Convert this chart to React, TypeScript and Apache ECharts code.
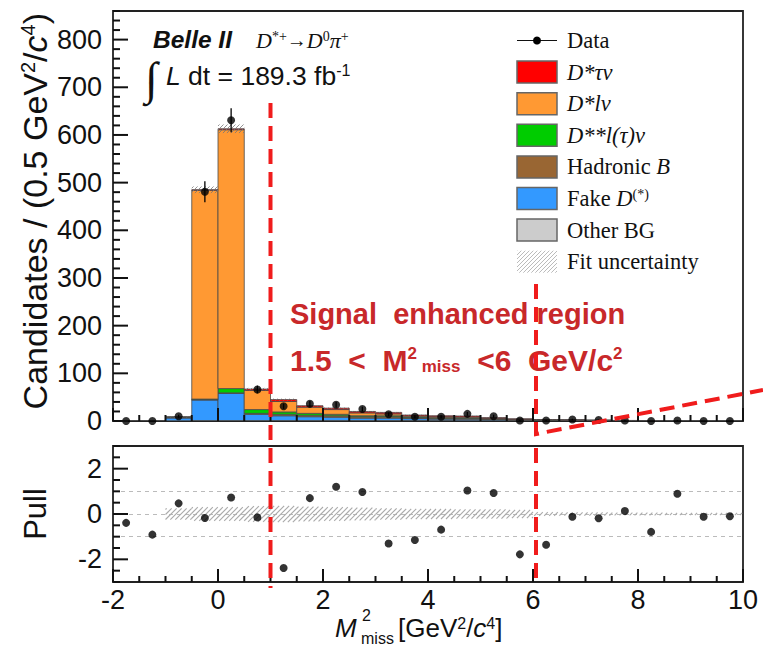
import React, { useEffect, useRef } from 'react';
import * as echarts from 'echarts';

// ---------- DATA ----------
const binLow = [-2, -1.5, -1, -0.5, 0, 0.5, 1, 1.5, 2, 2.5, 3, 3.5, 4, 4.5, 5, 5.5, 6, 6.5, 7, 7.5, 8, 8.5, 9, 9.5];
const BIN_W = 0.5;

const otherBG = [0.05, 0.2, 0.5, 1, 1, 1, 1, 1, 1, 1, 1, 1, 1, 0.8, 0.6, 0.4, 0.3, 0.25, 0.2, 0.15, 0.1, 0.08, 0.05, 0.03];
const fakeD = [0.1, 0.6, 6, 43, 57, 13, 10, 8, 7, 5, 5, 4, 3, 3, 2, 1.3, 0.9, 0.7, 0.5, 0.35, 0.25, 0.12, 0.07, 0.03];
const hadronicB = [0, 0, 0.5, 1, 1, 2, 3, 3, 3, 3, 3, 2, 2, 2, 1.5, 1, 0.7, 0.6, 0.45, 0.3, 0.18, 0.1, 0.04, 0.02];
const dssLnu = [0, 0, 0.5, 1, 9, 8, 5, 4, 3, 2, 2, 1.5, 1, 1, 0.6, 0.4, 0.2, 0.15, 0.1, 0.07, 0.05, 0.03, 0.01, 0.01];
const dsLnu = [0, 0, 1, 438, 543, 40, 22, 13, 10, 6, 4, 2, 2, 1.7, 1, 0.6, 0.3, 0.2, 0.15, 0.1, 0.07, 0.04, 0.02, 0.01];
const dsTaunu = [0, 0, 0, 1, 2, 3, 4, 3, 3, 3, 3, 2, 2, 2, 1.3, 0.8, 0.5, 0.4, 0.3, 0.2, 0.12, 0.05, 0.02, 0.01];

const dataCounts = [0, 0, 10, 481, 631, 66, 31, 36, 34, 25, 14, 9, 9, 15, 10, 1, 1, 3, 2, 1, 0, 1, 0, 0];
const pullValues = [-0.39, -0.91, 0.47, -0.18, 0.73, -0.15, -2.38, 0.7, 1.2, 0.97, -1.3, -1.15, -0.69, 1.04, 0.93, -1.78, -1.36, -0.12, -0.19, 0.13, -0.79, 0.89, -0.12, -0.1];
const fitUncTop = [0.05, 0.1, 1, 7, 9, 2.5, 2, 1.5, 1.3, 1.1, 1, 0.8, 0.7, 0.6, 0.5, 0.4, 0.3, 0.25, 0.2, 0.15, 0.1, 0.08, 0.05, 0.03];
const fitUncPull = [0, 0, 0.25, 0.3, 0.3, 0.35, 0.36, 0.33, 0.3, 0.28, 0.25, 0.23, 0.22, 0.2, 0.2, 0.18, 0.08, 0.07, 0.07, 0.06, 0.06, 0.05, 0.05, 0.05];

const pullRefLines = [1, 0, -1];
const pullTickValues = [-2, 0, 2];

// axis ranges / tick steps
const X_MIN = -2, X_MAX = 10, X_MAJOR = 2, X_MINOR = 0.5;
const Y_MIN = 0, Y_MAX = 860, Y_MAJOR = 100, Y_MINOR = 20, Y_LAST_LABEL = 800;
const P_MIN = -3, P_MAX = 3, P_MINOR = 0.5;

// ---------- STYLE ----------
const components = [
  { name: 'Other BG', values: otherBG, color: '#cccccc', label: 'Other BG' },
  { name: 'Fake D(*)', values: fakeD, color: '#3399ff', label: 'Fake {it|D}{sup|(*)}' },
  { name: 'Hadronic B', values: hadronicB, color: '#996633', label: 'Hadronic {it|B}' },
  { name: 'D**l(τ)ν', values: dssLnu, color: '#00cc00', label: '{it|D**l(τ)ν}' },
  { name: 'D*lν', values: dsLnu, color: '#ff9933', label: '{it|D*lν}' },
  { name: 'D*τν', values: dsTaunu, color: '#ff0000', label: '{it|D*τν}' },
];

const SANS = '"Liberation Sans", Arial, sans-serif';
const SERIF = '"Liberation Serif", "Times New Roman", serif';
const RED_TXT = '#c8282a';
const RED_LINE = '#f01c1c';
const LABEL_SIZE = 27;
const LEG_SIZE = 22.5;

function hatchLines(x0: number, y0: number, x1: number, y1: number, s: number, color: string, lw: number) {
  const out: any[] = [];
  const start = Math.ceil((x0 + y0) / s) * s;
  for (let c = start; c <= x1 + y1; c += s) {
    const xs = Math.max(x0, c - y1);
    const xe = Math.min(x1, c - y0);
    if (xe > xs) {
      out.push({ type: 'line', shape: { x1: xs, y1: c - xs, x2: xe, y2: c - xe }, style: { stroke: color, lineWidth: lw } });
    }
  }
  return out;
}

function steps(from: number, to: number, step: number) {
  const out: number[] = [];
  const n = Math.round((to - from) / step);
  for (let k = 0; k <= n; k++) out.push(Math.round((from + k * step) * 1000) / 1000);
  return out;
}

// tick marks as small filled rectangles: item = [xValue, yValue, kind (0 = y tick, 1 = x tick), lengthPx]
function tickSeries(xAxisIndex: number, yAxisIndex: number, items: number[][]) {
  return {
    type: 'custom',
    xAxisIndex,
    yAxisIndex,
    silent: true,
    clip: false,
    z: 30,
    dimensions: ['x', 'y', 'kind', 'len'],
    encode: { x: 0, y: 1 },
    data: items,
    renderItem: (params: any, api: any) => {
      const p = api.coord([api.value(0), api.value(1)]);
      const kind = Number(api.value(2));
      const len = Number(api.value(3));
      const shape = kind === 0
        ? { x: p[0], y: p[1] - 1, width: len, height: 2 }
        : { x: p[0] - 1, y: p[1] - len, width: 2, height: len };
      return { type: 'rect', shape, style: { fill: '#111111' } };
    },
  };
}

export default function App() {
  const ref = useRef<HTMLDivElement>(null);

  useEffect(() => {
    if (!ref.current) return;
    const chart = echarts.init(ref.current, null, { renderer: 'svg' });

    const base = binLow.map(() => 0);
    const stackSeries: any[] = components.map((comp) => {
      const data = binLow.map((lo, i) => {
        const b = base[i];
        const t = b + comp.values[i];
        base[i] = t;
        return [lo, lo + BIN_W, b, t];
      });
      return {
        type: 'custom',
        name: comp.name,
        xAxisIndex: 0,
        yAxisIndex: 0,
        clip: true,
        encode: { x: [0, 1], y: [2, 3] },
        data,
        renderItem: (params: any, api: any) => {
          const p0 = api.coord([api.value(0), api.value(2)]);
          const p1 = api.coord([api.value(1), api.value(3)]);
          return {
            type: 'rect',
            shape: { x: p0[0], y: p1[1], width: p1[0] - p0[0], height: p0[1] - p1[1] },
            style: { fill: comp.color, stroke: '#4a4a4a', lineWidth: 0.8 },
          };
        },
      };
    });
    const totals = base.slice();

    const topHatch = {
      type: 'custom',
      xAxisIndex: 0,
      yAxisIndex: 0,
      clip: true,
      encode: { x: [0, 1], y: [2, 3] },
      data: binLow.map((lo, i) => [lo, lo + BIN_W, totals[i] - fitUncTop[i], totals[i] + fitUncTop[i]]),
      renderItem: (params: any, api: any) => {
        const a = api.coord([api.value(0), api.value(3)]);
        const b = api.coord([api.value(1), api.value(2)]);
        return { type: 'group', children: hatchLines(a[0], a[1], b[0], b[1], 4, '#777', 0.8) };
      },
      z: 3,
    };

    const errorBars = {
      type: 'custom',
      xAxisIndex: 0,
      yAxisIndex: 0,
      encode: { x: 0, y: 1 },
      data: binLow.map((lo, i) => [lo + BIN_W / 2, dataCounts[i]]),
      renderItem: (params: any, api: any) => {
        const x = api.value(0);
        const v = api.value(1);
        if (v <= 0) return null;
        const e = Math.sqrt(v);
        const p0 = api.coord([x, v - e]);
        const p1 = api.coord([x, v + e]);
        return { type: 'line', shape: { x1: p0[0], y1: p0[1], x2: p1[0], y2: p1[1] }, style: { stroke: '#000', lineWidth: 1.3 } };
      },
      z: 4,
    };

    const dataScatter = {
      type: 'scatter',
      name: 'Data',
      xAxisIndex: 0,
      yAxisIndex: 0,
      symbol: 'circle',
      symbolSize: 8,
      itemStyle: { color: '#000' },
      data: binLow.map((lo, i) => [lo + BIN_W / 2, dataCounts[i]]),
      z: 5,
      clip: false,
    };

    const pullHatch = {
      type: 'custom',
      xAxisIndex: 1,
      yAxisIndex: 1,
      clip: true,
      encode: { x: [0, 1], y: [2, 3] },
      data: binLow.map((lo, i) => [lo, lo + BIN_W, -fitUncPull[i], fitUncPull[i]]),
      renderItem: (params: any, api: any) => {
        if (api.value(3) <= 0) return null;
        const a = api.coord([api.value(0), api.value(3)]);
        const b = api.coord([api.value(1), api.value(2)]);
        return { type: 'group', children: hatchLines(a[0], a[1], b[0], b[1], 5, '#aaaaaa', 1.1) };
      },
      z: 3,
    };

    const pullScatter = {
      type: 'scatter',
      xAxisIndex: 1,
      yAxisIndex: 1,
      symbol: 'circle',
      symbolSize: 8,
      itemStyle: { color: '#000' },
      data: binLow.map((lo, i) => [lo + BIN_W / 2, pullValues[i]]),
      z: 5,
      markLine: {
        silent: true,
        symbol: 'none',
        label: { show: false },
        lineStyle: { color: '#bbbbbb', type: [4, 4], width: 1 },
        data: pullRefLines.map((v) => ({ yAxis: v })),
        z: 1,
      },
    };

    // tick marks (ROOT style, inside the frames), placed through the axes' scales
    const xMajor = steps(X_MIN, X_MAX, X_MAJOR);
    const xMinor = steps(X_MIN, X_MAX, X_MINOR).filter((v) => !xMajor.includes(v));
    const topTicks: number[][] = [
      ...steps(Y_MIN, Y_LAST_LABEL, Y_MAJOR).map((v) => [X_MIN, v, 0, 15]),
      ...steps(Y_MIN, Y_MAX, Y_MINOR).filter((v) => v % Y_MAJOR !== 0).map((v) => [X_MIN, v, 0, 7]),
      ...xMajor.map((v) => [v, Y_MIN, 1, 13]),
      ...xMinor.map((v) => [v, Y_MIN, 1, 6]),
    ];
    const pullTicks: number[][] = [
      ...pullTickValues.map((v) => [X_MIN, v, 0, 15]),
      ...steps(P_MIN, P_MAX, P_MINOR).filter((v) => !pullTickValues.includes(v)).map((v) => [X_MIN, v, 0, 7]),
      ...xMajor.map((v) => [v, P_MIN, 1, 13]),
      ...xMinor.map((v) => [v, P_MIN, 1, 6]),
    ];

    const noLine = { show: false, onZero: false };
    const noTick = { show: false };
    const axisLabelStyle = { color: '#111', fontSize: LABEL_SIZE, fontFamily: SANS };

    // Legend graphics
    const legendX = 517;
    const legendTextX = 567;
    const legendY0 = 40.5;
    const legendStep = 31.6;
    const legendRich = {
      it: { fontStyle: 'italic', fontFamily: SERIF, fontSize: LEG_SIZE, fill: '#111' },
      sup: { fontFamily: SERIF, fontSize: 14, fill: '#111', verticalAlign: 'top' },
    };
    const legendItems: any[] = [];
    legendItems.push({ type: 'line', shape: { x1: legendX, y1: legendY0, x2: legendX + 40, y2: legendY0 }, style: { stroke: '#111', lineWidth: 1.2 } });
    legendItems.push({ type: 'circle', shape: { cx: legendX + 20, cy: legendY0, r: 4 }, style: { fill: '#000' } });
    legendItems.push({ type: 'text', x: legendTextX, y: legendY0, style: { text: 'Data', fontFamily: SERIF, fontSize: LEG_SIZE, fill: '#111', verticalAlign: 'middle' } });
    components.slice().reverse().forEach((comp, k) => {
      const cy = legendY0 + legendStep * (k + 1);
      legendItems.push({ type: 'rect', shape: { x: legendX, y: cy - 11, width: 40, height: 22 }, style: { fill: comp.color, stroke: '#666', lineWidth: 1.5 } });
      legendItems.push({ type: 'text', x: legendTextX, y: cy, style: { text: comp.label, rich: legendRich, fontFamily: SERIF, fontSize: LEG_SIZE, fill: '#111', verticalAlign: 'middle' } });
    });
    {
      const cy = legendY0 + legendStep * 7;
      legendItems.push({ type: 'group', children: hatchLines(legendX, cy - 11, legendX + 40, cy + 11, 4, '#bbb', 1) });
      legendItems.push({ type: 'text', x: legendTextX, y: cy, style: { text: 'Fit uncertainty', fontFamily: SERIF, fontSize: LEG_SIZE, fill: '#111', verticalAlign: 'middle' } });
    }

    const dash = () => ({ stroke: RED_LINE, lineWidth: 4, lineDash: [15, 8] });

    const graphic: any[] = [
      ...legendItems,
      // header
      { type: 'text', x: 153, y: 39, style: { text: 'Belle II', fontFamily: SANS, fontStyle: 'italic', fontWeight: 'bold', fontSize: 24.5, fill: '#111', verticalAlign: 'middle' } },
      {
        type: 'text', x: 256, y: 40,
        style: {
          text: '{it|D}{sup|*+}{n|→}{it|D}{sup|0}{it|π}{sup|+}',
          rich: {
            it: { fontFamily: SERIF, fontStyle: 'italic', fontSize: 22, fill: '#111' },
            n: { fontFamily: SERIF, fontSize: 20, fill: '#111' },
            sup: { fontFamily: SERIF, fontSize: 14, fill: '#111', verticalAlign: 'top' },
          },
          verticalAlign: 'middle',
        },
      },
      { type: 'text', x: 145, y: 78, style: { text: '∫', fontFamily: SERIF, fontStyle: 'italic', fontSize: 46, fill: '#111', verticalAlign: 'middle' } },
      {
        type: 'text', x: 166, y: 76,
        style: {
          text: '{it|L} dt = 189.3 fb{sup|-1}',
          fontFamily: SANS, fontSize: 26.5, fill: '#111',
          rich: {
            it: { fontFamily: SANS, fontStyle: 'italic', fontSize: 26.5, fill: '#111' },
            sup: { fontFamily: SANS, fontSize: 16, fill: '#111', verticalAlign: 'top' },
          },
          verticalAlign: 'middle',
        },
      },
      // axis titles
      {
        type: 'text', x: 35, y: 13, rotation: Math.PI / 2,
        style: {
          text: 'Candidates / (0.5 GeV{sup|2}/{it|c}{sup|4})',
          fontFamily: SANS, fontSize: 34, fill: '#111',
          rich: {
            it: { fontFamily: SANS, fontStyle: 'italic', fontSize: 34, fill: '#111' },
            sup: { fontFamily: SANS, fontSize: 20, fill: '#111', verticalAlign: 'top' },
          },
          align: 'right', verticalAlign: 'middle',
        },
      },
      { type: 'text', x: 35, y: 514, rotation: Math.PI / 2, style: { text: 'Pull', fontFamily: SANS, fontSize: 31, fill: '#111', align: 'center', verticalAlign: 'middle' } },
      { type: 'text', x: 335, y: 628, style: { text: 'M', fontFamily: SANS, fontStyle: 'italic', fontSize: 26, fill: '#111', verticalAlign: 'middle' } },
      { type: 'text', x: 362, y: 615, style: { text: '2', fontFamily: SANS, fontSize: 16, fill: '#111', verticalAlign: 'middle' } },
      { type: 'text', x: 361, y: 638, style: { text: 'miss', fontFamily: SANS, fontSize: 16, fill: '#111', verticalAlign: 'middle' } },
      {
        type: 'text', x: 398, y: 628,
        style: {
          text: '[GeV{sup|2}/{it|c}{sup|4}]',
          fontFamily: SANS, fontSize: 26, fill: '#111',
          rich: {
            it: { fontFamily: SANS, fontStyle: 'italic', fontSize: 26, fill: '#111' },
            sup: { fontFamily: SANS, fontSize: 16, fill: '#111', verticalAlign: 'top' },
          },
          verticalAlign: 'middle',
        },
      },
      // annotation text
      { type: 'text', x: 290, y: 314, z: 50, style: { text: 'Signal  enhanced region', fontFamily: SANS, fontWeight: 'bold', fontSize: 29, fill: RED_TXT, verticalAlign: 'middle' } },
      {
        type: 'text', x: 290, y: 360, z: 50,
        style: {
          text: '1.5  <  M{sup|2}{sub| miss}  <6  GeV/c{sup|2}',
          fontFamily: SANS, fontWeight: 'bold', fontSize: 30, fill: RED_TXT,
          rich: {
            sup: { fontFamily: SANS, fontWeight: 'bold', fontSize: 17, fill: RED_TXT, verticalAlign: 'top' },
            sub: { fontFamily: SANS, fontWeight: 'bold', fontSize: 17, fill: RED_TXT, verticalAlign: 'bottom' },
          },
          verticalAlign: 'middle',
        },
      },
      // annotation dashed lines
      { type: 'line', z: 60, shape: { x1: 270.5, y1: 103, x2: 270.5, y2: 588 }, style: dash() },
      { type: 'polyline', z: 60, shape: { points: [[536, 284], [536, 434], [763, 390]] }, style: { ...dash(), fill: 'none' } },
      { type: 'line', z: 60, shape: { x1: 536, y1: 448, x2: 536, y2: 578 }, style: dash() },
    ];

    const option: any = {
      animation: false,
      textStyle: { fontFamily: SANS },
      grid: [
        { left: 113, top: 11, width: 630, height: 410, show: true, borderColor: '#222', borderWidth: 1.8, backgroundColor: 'transparent' },
        { left: 113, top: 446, width: 630, height: 136, show: true, borderColor: '#222', borderWidth: 1.8, backgroundColor: 'transparent' },
      ],
      xAxis: [
        { type: 'value', gridIndex: 0, position: 'bottom', min: X_MIN, max: X_MAX, interval: X_MAJOR, axisLine: noLine, axisTick: noTick, axisLabel: { show: false }, splitLine: { show: false } },
        { type: 'value', gridIndex: 1, position: 'bottom', min: X_MIN, max: X_MAX, interval: X_MAJOR, axisLine: noLine, axisTick: noTick, axisLabel: { ...axisLabelStyle, margin: 4 }, splitLine: { show: false } },
      ],
      yAxis: [
        { type: 'value', gridIndex: 0, position: 'left', min: Y_MIN, max: Y_MAX, interval: Y_MAJOR, axisLine: noLine, axisTick: noTick, axisLabel: { ...axisLabelStyle, margin: 11, showMaxLabel: false }, splitLine: { show: false } },
        { type: 'value', gridIndex: 1, position: 'left', min: P_MIN, max: P_MAX, axisLine: noLine, axisTick: noTick, axisLabel: { ...axisLabelStyle, margin: 11, customValues: pullTickValues }, splitLine: { show: false } },
      ],
      series: [
        ...stackSeries, topHatch, errorBars, dataScatter, pullHatch, pullScatter,
        tickSeries(0, 0, topTicks),
        tickSeries(1, 1, pullTicks),
      ],
      graphic,
    };

    chart.setOption(option);
    return () => chart.dispose();
  }, []);

  return <div ref={ref} style={{ position: 'absolute', left: 0, top: 0, width: 763, height: 646, background: '#fff' }} />;
}
